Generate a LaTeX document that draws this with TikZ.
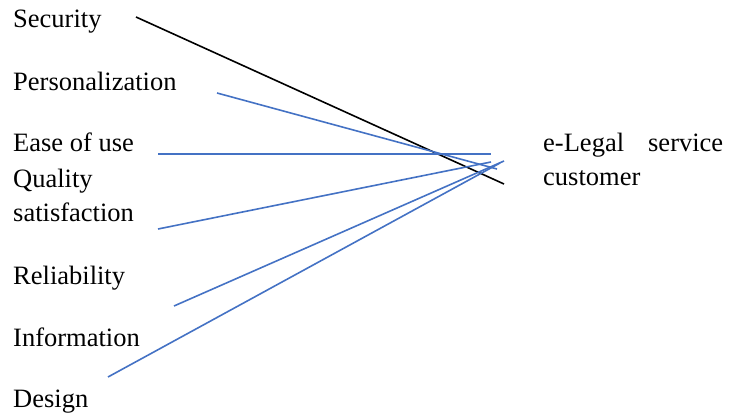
\documentclass[tikz,border=0pt]{standalone}
\usepackage{fontspec}
\setmainfont{Liberation Serif}
\usepackage{xcolor}
\usepackage{tikz}
\usetikzlibrary{positioning}
\definecolor{lineblue}{RGB}{68, 114, 196}

\begin{document}
\begin{tikzpicture}[x=1pt, y=-1pt]
\tikzset{
  factor/.style={anchor=base west, inner sep=0pt, align=left, font=\fontsize{26.5}{34}\selectfont},
  target/.style={anchor=base west, inner sep=0pt, text width=180pt, align=justify, font=\fontsize{26.5}{34}\selectfont},
  link/.style={line width=1.6pt, lineblue}
}
\useasboundingbox (0,0) rectangle (738,414);
% factors
\node[factor] (sec)  at (13, 28)  {Security};
\node[factor] (pers) at (13, 91)  {Personalization};
\node[factor] (ease) at (13, 152) {Ease of use};
\node[factor] (qual) at (13, 221) {Quality\\satisfaction};
\node[factor] (rel)  at (13, 284) {Reliability};
\node[factor] (info) at (13, 346) {Information};
\node[factor] (des)  at (13, 407) {Design};
\node[target] (cust) at (543, 152) {\hyphenpenalty=10000 e-Legal service customer};
% line ends
\coordinate (sec0)  at (136, 17);   \coordinate (sec1)  at (504, 184);
\coordinate (pers0) at (217, 93);   \coordinate (pers1) at (497, 169);
\coordinate (ease0) at (158, 154);  \coordinate (ease1) at (491, 154);
\coordinate (qual0) at (158, 229);  \coordinate (qual1) at (491, 162);
\coordinate (rel0)  at (174, 306);  \coordinate (rel1)  at (504, 161);
\coordinate (des0)  at (108, 377);  \coordinate (des1)  at (500, 163);
\draw[line width=1.6pt, black] (sec0) -- (sec1);
\draw[link] (pers0) -- (pers1);
\draw[link] (ease0) -- (ease1);
\draw[link] (qual0) -- (qual1);
\draw[link] (rel0) -- (rel1);
\draw[link] (des0) -- (des1);
\end{tikzpicture}
\end{document}
